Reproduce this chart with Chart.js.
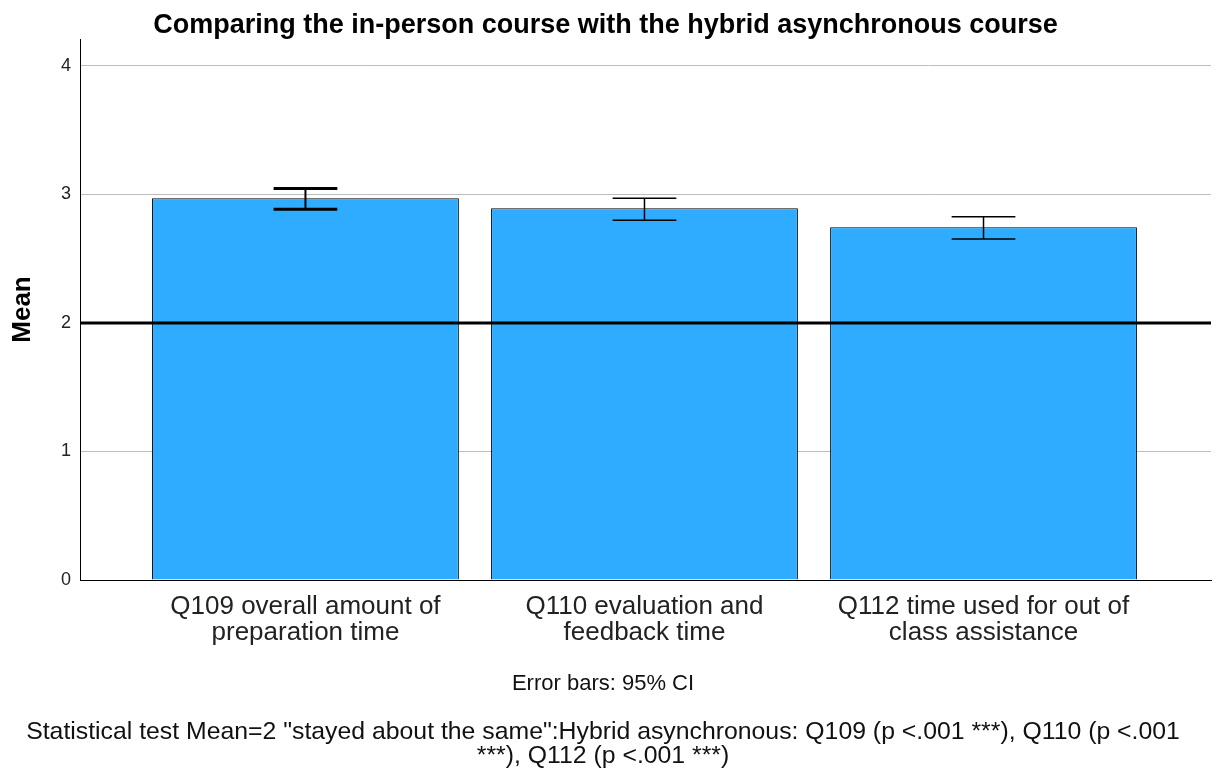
<!doctype html>
<html>

<head>
    <title>Bar Chart</title>
    <script src="https://cdn.jsdelivr.net/npm/chart.js@4.4.1/dist/chart.umd.min.js"></script>
    <style>
        body {
            margin: 0;
            background: #fff;
        }
    </style>
</head>

<body>
    <canvas id="canvas" width="1216" height="771"></canvas>
    <script>
        var categories = [
            ["Q109 overall amount of", "preparation time"],
            ["Q110 evaluation and", "feedback time"],
            ["Q112 time used for out of", "class assistance"]
        ];
        var means = [2.971, 2.893, 2.745];
        var ciLower = [2.886, 2.800, 2.654];
        var ciUpper = [3.046, 2.971, 2.826];
        var yTicks = [0, 1, 2, 3, 4];
        var testValue = 2;
        var footerLines = [
            'Statistical test Mean=2 "stayed about the same":Hybrid asynchronous: Q109 (p <.001 ***), Q110 (p <.001',
            '***), Q112 (p <.001 ***)'
        ];

        var FONT = "'Liberation Sans', Arial, sans-serif";

        // error bars + reference line, drawn through the scales
        var extras = {
            id: 'extras',
            afterDatasetsDraw: function (chart) {
                var ctx = chart.ctx;
                var xs = chart.scales.x, ys = chart.scales.y;
                var area = chart.chartArea;
                ctx.save();
                ctx.strokeStyle = '#000';
                // reference line at test value
                ctx.lineWidth = 3;
                ctx.beginPath();
                ctx.moveTo(area.left, ys.getPixelForValue(testValue));
                ctx.lineTo(area.right, ys.getPixelForValue(testValue));
                ctx.stroke();
                for (var i = 0; i < means.length; i++) {
                    var x = xs.getPixelForValue(i);
                    var x0 = xs.getPixelForValue(i - 0.094);
                    var x1 = xs.getPixelForValue(i + 0.094);
                    var yl = ys.getPixelForValue(ciLower[i]);
                    var yu = ys.getPixelForValue(ciUpper[i]);
                    var w = i === 0 ? 3 : 1.5;
                    ctx.lineWidth = i === 0 ? 2 : 1.5;
                    ctx.beginPath();
                    ctx.moveTo(x, yl);
                    ctx.lineTo(x, yu);
                    ctx.stroke();
                    ctx.lineWidth = w;
                    ctx.beginPath();
                    ctx.moveTo(x0, yl);
                    ctx.lineTo(x1, yl);
                    ctx.moveTo(x0, yu);
                    ctx.lineTo(x1, yu);
                    ctx.stroke();
                }
                ctx.restore();
            },
            afterDraw: function (chart) {
                var ctx = chart.ctx;
                var cx = 603;
                ctx.save();
                ctx.fillStyle = '#111';
                ctx.textAlign = 'center';
                ctx.textBaseline = 'middle';
                ctx.font = '22px ' + FONT;
                ctx.fillText('Error bars: 95% CI', cx, 684);
                ctx.font = '24.8px ' + FONT;
                ctx.fillText(footerLines[0], cx, 732);
                ctx.fillText(footerLines[1], cx, 756);
                ctx.restore();
            }
        };

        window.onload = function () {
            var ctx = document.getElementById('canvas').getContext('2d');
            window.myBar = new Chart(ctx, {
                type: 'bar',
                data: {
                    datasets: [{
                        label: 'Mean',
                        data: means.map(function (m, i) { return { x: i, y: m }; }),
                        backgroundColor: 'rgb(47,172,255)',
                        borderColor: '#000',
                        borderWidth: 1,
                        barPercentage: 0.905,
                        categoryPercentage: 1
                    }]
                },
                plugins: [extras],
                options: {
                    responsive: false,
                    animation: false,
                    layout: {
                        padding: { left: 0, right: 5, top: 0, bottom: 0 }
                    },
                    plugins: {
                        legend: { display: false },
                        tooltip: { enabled: false },
                        title: {
                            display: true,
                            text: 'Comparing the in-person course with the hybrid asynchronous course',
                            color: '#000',
                            font: { family: FONT, size: 27, weight: 'bold', lineHeight: 1.0 },
                            padding: { top: 12, bottom: 0 }
                        }
                    },
                    scales: {
                        x: {
                            type: 'linear',
                            min: -0.665,
                            max: 2.671,
                            offset: false,
                            grid: { display: false, drawTicks: false },
                            border: { display: true, color: '#000', width: 1 },
                            afterBuildTicks: function (scale) {
                                scale.ticks = categories.map(function (c, i) { return { value: i }; });
                            },
                            afterFit: function (scale) {
                                scale.height = 191;
                            },
                            ticks: {
                                autoSkip: false,
                                maxRotation: 0,
                                minRotation: 0,
                                padding: 14,
                                color: '#222',
                                font: { family: FONT, size: 26, lineHeight: 1.0 },
                                callback: function (v) { return categories[v]; }
                            }
                        },
                        y: {
                            min: 0,
                            max: 4.21,
                            grid: { color: '#bdbdbd', lineWidth: 1, drawTicks: false },
                            border: { display: true, color: '#000', width: 1 },
                            afterBuildTicks: function (scale) {
                                scale.ticks = yTicks.map(function (v) { return { value: v }; });
                            },
                            afterFit: function (scale) {
                                scale.width = 80;
                            },
                            ticks: {
                                padding: 9,
                                color: '#222',
                                font: { family: FONT, size: 18 }
                            },
                            title: {
                                display: true,
                                text: 'Mean',
                                color: '#000',
                                font: { family: FONT, size: 26, weight: 'bold', lineHeight: 1.2 },
                                padding: { top: 7, bottom: 0 }
                            }
                        }
                    }
                }
            });
        };
    </script>
</body>

</html>
